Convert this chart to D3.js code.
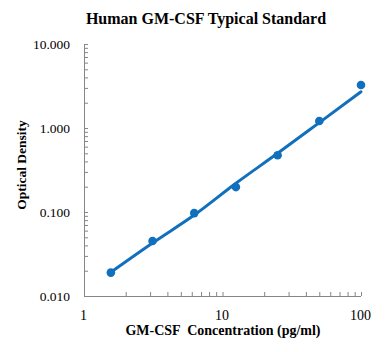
<!DOCTYPE html>
<html>
<head>
<meta charset="utf-8">
<script src="https://cdn.jsdelivr.net/npm/d3@7/dist/d3.min.js"></script>
<style>
  html, body { margin: 0; padding: 0; background: #fff; }
  svg { display: block; }
  text { font-family: "Liberation Serif", "Times New Roman", serif; fill: #000; }
</style>
</head>
<body>
<svg id="chart" width="387" height="352"></svg>
<script>
// ---- data ----
const concentrations = [1.5625, 3.125, 6.25, 12.5, 25, 50, 100];
const odValues = [0.019, 0.0452, 0.097, 0.198, 0.473, 1.21, 3.25];
const fitValues = [0.0192, 0.0428, 0.092, 0.22, 0.50, 1.16, 2.70];
const xTickValues = [1, 10, 100];
const yTickValues = [0.01, 0.1, 1, 10];
const titleText = "Human GM-CSF Typical Standard";
const xLabelText = "GM-CSF  Concentration (pg/ml)";
const yLabelText = "Optical Density";

// ---- layout ----
const svg = d3.select("#chart");
const plotLeft = 84, plotRight = 361, plotTop = 44, plotBottom = 296;
const color = "#1170bd";
const axisColor = "#868686";

const x = d3.scaleLog().domain([1, 100]).range([plotLeft, plotRight]);
const y = d3.scaleLog().domain([0.01, 10]).range([plotBottom, plotTop]);

// minor ticks
const xMinor = [];
for (let d = 1; d < 100; d *= 10) for (let k = 2; k <= 10; k++) xMinor.push(d * k);
const yMinor = [];
for (let d = 0.01; d < 10; d *= 10) for (let k = 2; k <= 9; k++) yMinor.push(+(d * k).toPrecision(3));

// x axis
const gx = svg.append("g").attr("transform", `translate(0,${plotBottom})`);
gx.call(d3.axisBottom(x).tickValues(xMinor).tickSize(-4).tickFormat(""));
gx.select(".domain").attr("stroke", axisColor).attr("d", `M${plotLeft},0.5H${plotRight}`);
gx.selectAll(".tick line").attr("stroke", axisColor);
const gxl = svg.append("g").attr("transform", `translate(0,${plotBottom})`);
gxl.call(d3.axisBottom(x).tickValues(xTickValues).tickSize(0).tickPadding(14).tickFormat(d3.format("d")));
gxl.select(".domain").remove();
gxl.selectAll("text").style("font-family", "Liberation Serif").style("font-size", "14px").attr("fill", "#000").attr("dx", "-1");

// y axis
const gy = svg.append("g").attr("transform", `translate(${plotLeft},0)`);
gy.call(d3.axisLeft(y).tickValues(yMinor.concat(yTickValues)).tickSize(-4).tickFormat(""));
gy.select(".domain").attr("stroke", axisColor).attr("d", `M0.5,${plotTop}V${plotBottom}`);
gy.selectAll(".tick line").attr("stroke", axisColor);
const gyl = svg.append("g").attr("transform", `translate(${plotLeft},0)`);
gyl.call(d3.axisLeft(y).tickValues(yTickValues).tickSize(0).tickPadding(14).tickFormat(d3.format(".3f")));
gyl.select(".domain").remove();
gyl.selectAll("text").style("font-family", "Liberation Serif").style("font-size", "13.5px").attr("fill", "#000");

// fit line
const line = d3.line().x((d, i) => x(concentrations[i])).y(d => y(d)).curve(d3.curveMonotoneX);
svg.append("path").datum(fitValues)
  .attr("d", line)
  .attr("fill", "none")
  .attr("stroke", color)
  .attr("stroke-width", 3)
  .attr("stroke-linecap", "round");

// points
svg.append("g").selectAll("circle").data(odValues).join("circle")
  .attr("cx", (d, i) => x(concentrations[i]))
  .attr("cy", d => y(d))
  .attr("r", 4.3)
  .attr("fill", color);

// title
svg.append("text").attr("x", 206).attr("y", 24).attr("text-anchor", "middle")
  .style("font-size", "16px").style("font-weight", "bold").text(titleText);

// x label
svg.append("text").attr("x", 223).attr("y", 335).attr("text-anchor", "middle")
  .style("font-size", "14px").style("font-weight", "bold").style("white-space", "pre").text(xLabelText);

// y label
svg.append("text").attr("transform", "translate(26,165) rotate(-90)").attr("text-anchor", "middle")
  .style("font-size", "13.5px").style("font-weight", "bold").text(yLabelText);
</script>
</body>
</html>
